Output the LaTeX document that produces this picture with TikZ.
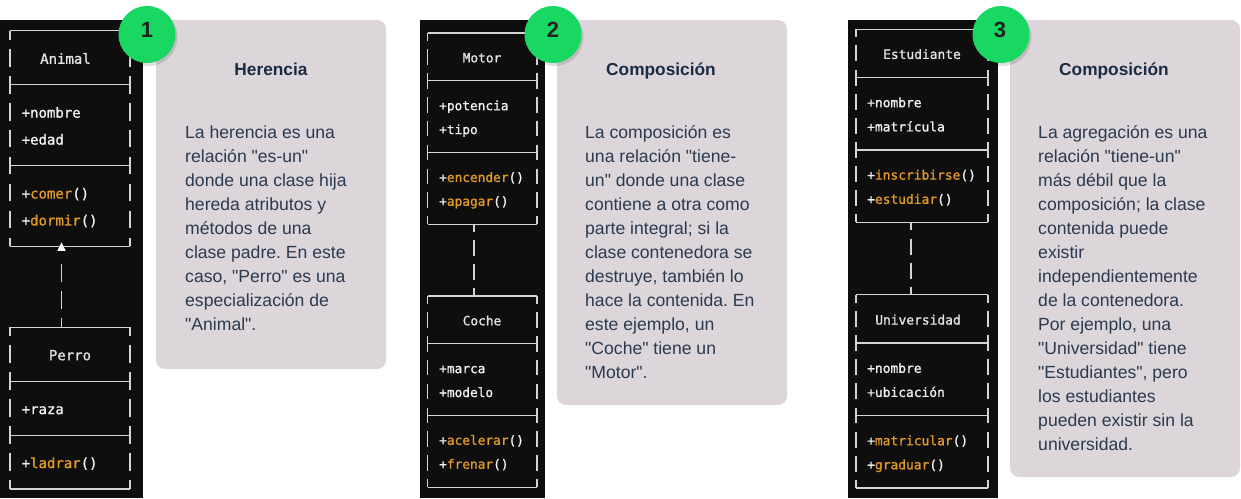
\documentclass[tikz,border=0pt]{standalone}
\usepackage{fontspec}
\setmainfont{Liberation Sans}[Ligatures=TeXOff]
\newfontfamily\monof{DejaVu Sans Mono}[FakeBold=1.2]
\frenchspacing
\definecolor{panel}{HTML}{0E0E0E}
\definecolor{card}{HTML}{DCD5DA}
\definecolor{bodytxt}{HTML}{2B3A4F}
\definecolor{titletxt}{HTML}{1B2B45}
\definecolor{badge}{HTML}{18D862}
\definecolor{numtxt}{HTML}{222222}
\definecolor{orng}{RGB}{226,153,38}
\definecolor{bline}{HTML}{D4D4D4}
\definecolor{mtxt}{HTML}{F2F2F2}
\definecolor{cname}{HTML}{E2E2E2}
\newcommand\asciibox[7]{%
 \pgfmathsetmacro\hh{0.33*#4}%
 \draw[boxline] (#1,#3) -- (#2,#3);
 \draw[boxline] (#1,{#3+#6*#4}) -- (#2,{#3+#6*#4});
 \foreach \s in {#5}{\draw[boxline] (#1,{#3+\s*#4}) -- (#2,{#3+\s*#4});}
 \foreach \xx in {#1,#2}{%
   \draw[boxline] (\xx,#3) -- (\xx,{#3+\hh});
   \draw[boxline] (\xx,{#3+#6*#4-\hh}) -- (\xx,{#3+#6*#4});
   \foreach \r in {1,...,#7}{\draw[boxline] (\xx,{#3+\r*#4-\hh}) -- (\xx,{#3+\r*#4+\hh});}
 }%
}
\begin{document}
\begin{tikzpicture}[x=1pt,y=-1pt,
  boxline/.style={draw=bline, line width=1.2pt},
  conn/.style={draw=bline, line width=1.2pt},
  mono/.style={inner sep=0pt, text=mtxt, anchor=base west},
  cls/.style={inner sep=0pt, text=cname, anchor=base},
  pa/.style={font=\monof\fontsize{14}{16}\selectfont},
  pb/.style={font=\monof\fontsize{12.8}{15}\selectfont},
  pc/.style={font=\monof\fontsize{12.9}{15}\selectfont},
  bodytext/.style={inner sep=0pt, anchor=base west, text=bodytxt, font=\fontsize{17.6}{24}\selectfont},
  ttl/.style={inner sep=0pt, anchor=base, text=titletxt, font=\bfseries\fontsize{17.3}{20}\selectfont},
  card/.style={fill=card, rounded corners=9pt},
  panelbg/.style={fill=panel},
  badgec/.style={circle, fill=badge, minimum size=57pt, inner sep=0pt},
  bnum/.style={inner sep=0pt, anchor=base, text=numtxt, font=\bfseries\fontsize{22}{24}\selectfont}]
\useasboundingbox (0,0) rectangle (1241,498);
\fill[white] (0,0) rectangle (1241,498);
% dark panels
\fill[panelbg] (0,20) rectangle (143,498);
\fill[panelbg] (420,20) rectangle (545,498);
\fill[panelbg] (848,20) rectangle (998,498);
% cards
\fill[card] (156,20) rectangle (386,369);
\fill[card] (557,20) rectangle (787,405);
\fill[card] (1010,20) rectangle (1240,477);

% ---------- Panel 1 ----------
\asciibox{10}{130}{30.8}{26.95}{2,5}{8}{7}
\asciibox{10}{130}{327.3}{26.95}{2,4}{6}{5}
\node[cls,pa] (animal) at (65.5,63.75) {Animal};
\node[mono,pa] (a1) at (21.5,117.65) {+nombre};
\node[mono,pa] (a2) at (21.5,144.6) {+edad};
\node[mono,pa] (a3) at (21.5,198.5) {+\textcolor{orng}{comer}()};
\node[mono,pa] (a4) at (21.5,225.45) {+\textcolor{orng}{dormir}()};
\node[cls,pa] (perro) at (70,360.2) {Perro};
\node[mono,pa] (p1) at (21.5,414.1) {+raza};
\node[mono,pa] (p2) at (21.5,468) {+\textcolor{orng}{ladrar}()};
\coordinate (animalbot) at (61.5,246.4);
\coordinate (perrotop) at (61.5,327.3);
\draw[conn, dash pattern=on 0pt off 18.05pt on 17.8pt off 9.15pt on 17.8pt off 9.15pt on 8.9pt] (animalbot) -- (perrotop);
\fill[white] (animalbot) ++(-4.2,4.5) -- ++(8.4,0) -- ++(-4.2,-8.5) -- cycle;

% ---------- Panel 2 ----------
\asciibox{427.5}{537}{33}{23.9}{2,5}{8}{7}
\asciibox{427.5}{537}{295.9}{23.9}{2,5}{8}{7}
\node[cls,pb] (motor) at (482,62.4) {Motor};
\node[mono,pb] (m1) at (439,110.2) {+potencia};
\node[mono,pb] (m2) at (439,134.1) {+tipo};
\node[mono,pb] (m3) at (439,181.9) {+\textcolor{orng}{encender}()};
\node[mono,pb] (m4) at (439,205.8) {+\textcolor{orng}{apagar}()};
\node[cls,pb] (coche) at (482,325.3) {Coche};
\node[mono,pb] (k1) at (439,373.1) {+marca};
\node[mono,pb] (k2) at (439,397) {+modelo};
\node[mono,pb] (k3) at (439,444.8) {+\textcolor{orng}{acelerar}()};
\node[mono,pb] (k4) at (439,468.7) {+\textcolor{orng}{frenar}()};
\coordinate (motorbot) at (474,224.2);
\coordinate (cochetop) at (474,295.9);
\draw[conn, dash pattern=on 7.89pt off 8.12pt on 15.78pt off 8.12pt on 15.78pt off 8.12pt on 7.89pt] (motorbot) -- (cochetop);

% ---------- Panel 3 ----------
\asciibox{856}{988}{29.3}{24.14}{2,5}{8}{7}
\asciibox{856}{988}{294.8}{24.14}{2,5}{8}{7}
\node[cls,pc] (estudiante) at (922,58.9) {Estudiante};
\node[mono,pc] (e1) at (867,107.2) {+nombre};
\node[mono,pc] (e2) at (867,131.4) {+matrícula};
\node[mono,pc] (e3) at (867,179.6) {+\textcolor{orng}{inscribirse}()};
\node[mono,pc] (e4) at (867,203.8) {+\textcolor{orng}{estudiar}()};
\node[cls,pc] (universidad) at (918,324.5) {Universidad};
\node[mono,pc] (u1) at (867,372.8) {+nombre};
\node[mono,pc] (u2) at (867,396.9) {+ubicación};
\node[mono,pc] (u3) at (867,445.2) {+\textcolor{orng}{matricular}()};
\node[mono,pc] (u4) at (867,469.3) {+\textcolor{orng}{graduar}()};
\coordinate (estbot) at (911,222.4);
\coordinate (unitop) at (911,294.8);
\draw[conn, dash pattern=on 7.97pt off 8.2pt on 15.94pt off 8.2pt on 15.94pt off 8.2pt on 7.97pt] (estbot) -- (unitop);

% ---------- Card texts ----------
\node[ttl] (t1) at (271,75) {Herencia};
\foreach[count=\i] \l in {{La herencia es una},{relación "es-un"},{donde una clase hija},{hereda atributos y},{métodos de una},{clase padre. En este},{caso, "Perro" es una},{especialización de},{"Animal".}}
  \node[bodytext] (c1l\i) at (185,{138+(\i-1)*24}) {\l};

\node[ttl] (t2) at (661,75) {Composición};
\foreach[count=\i] \l in {{La composición es},{una relación "tiene-},{un" donde una clase},{contiene a otra como},{parte integral; si la},{clase contenedora se},{destruye, también lo},{hace la contenida. En},{este ejemplo, un},{"Coche" tiene un},{"Motor".}}
  \node[bodytext] (c2l\i) at (585,{138+(\i-1)*24}) {\l};

\node[ttl] (t3) at (1114,75) {Composición};
\foreach[count=\i] \l in {{La agregación es una},{relación "tiene-un"},{más débil que la},{composición; la clase},{contenida puede},{existir},{independientemente},{de la contenedora.},{Por ejemplo, una},{"Universidad" tiene},{"Estudiantes", pero},{los estudiantes},{pueden existir sin la},{universidad.}}
  \node[bodytext] (c3l\i) at (1038,{138+(\i-1)*24}) {\l};

% ---------- Badges ----------
\fill[black, opacity=0.12] (148.5,37) circle (29);
\fill[black, opacity=0.12] (554.5,37) circle (29);
\fill[black, opacity=0.12] (1002.5,37) circle (29);
\node[badgec] (b1) at (147,34.5) {};
\node[badgec] (b2) at (553,34.5) {};
\node[badgec] (b3) at (1001,34.5) {};
\node[bnum] (n1) at (147,37) {1};
\node[bnum] (n2) at (553,37) {2};
\node[bnum] (n3) at (1000,37) {3};
\end{tikzpicture}
\end{document}
